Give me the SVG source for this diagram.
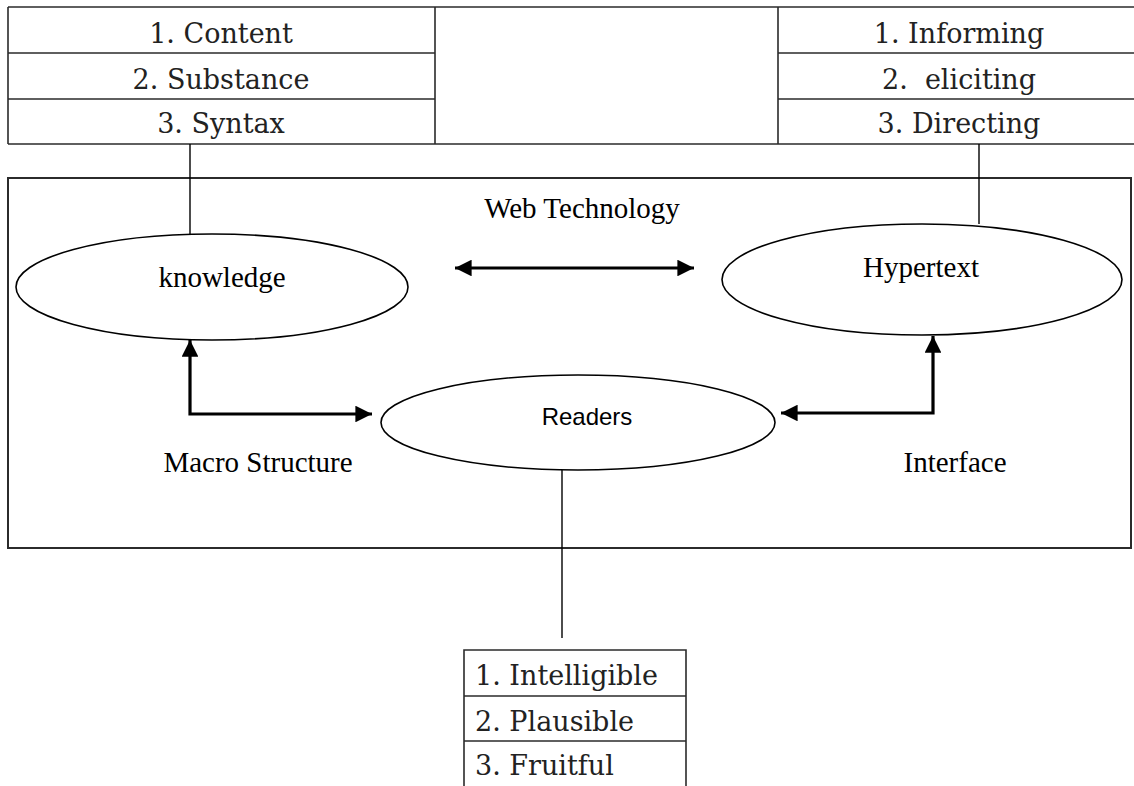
<svg xmlns="http://www.w3.org/2000/svg" width="1134" height="786" viewBox="0 0 1134 786">
  <style>
    .grid { stroke: #2b2b2b; stroke-width: 1.6; fill: none; }
    .frame { stroke: #2b2b2b; stroke-width: 2; fill: none; }
    .node { stroke: #000; stroke-width: 1.6; fill: #fff; }
    .link { stroke: #000; stroke-width: 1.4; fill: none; }
    .arrow { stroke: #000; stroke-width: 3.2; fill: none; }
    .cell { font-family: "DejaVu Serif", "Liberation Serif", serif; font-size: 27px; fill: #222; white-space: pre; }
    .label { font-family: "Liberation Serif", "Times New Roman", serif; font-size: 29px; fill: #000; }
    .sans { font-family: "Liberation Sans", Arial, sans-serif; font-size: 24px; fill: #000; }
  </style>
  <defs>
    <marker id="head" viewBox="0 0 10 10" refX="10" refY="5" markerWidth="5.2" markerHeight="5.2" markerUnits="strokeWidth" orient="auto-start-reverse">
      <path d="M0,0 L10,5 L0,10 Z" fill="#000"/>
    </marker>
  </defs>
  <rect width="1134" height="786" fill="#fff"/>

  <!-- top table: properties of knowledge (left) and hypertext (right) -->
  <g id="top-table">
    <path class="grid" d="M8,7 H1140 M8,144 H1140 M8,7 V144 M435,7 V144 M778,7 V144 M8,53 H435 M8,99 H435 M778,53 H1140 M778,99 H1140"/>
    <text class="cell" x="221" y="43" text-anchor="middle">1. Content</text>
    <text class="cell" x="221" y="89" text-anchor="middle">2. Substance</text>
    <text class="cell" x="221" y="133" text-anchor="middle">3. Syntax</text>
    <text class="cell" x="959" y="43" text-anchor="middle">1. Informing</text>
    <text class="cell" x="959" y="89" text-anchor="middle">2.  eliciting</text>
    <text class="cell" x="959" y="133" text-anchor="middle">3. Directing</text>
  </g>

  <!-- web technology frame -->
  <g id="web-technology">
    <rect class="frame" x="8" y="178" width="1123" height="370"/>
    <text class="label" x="582" y="218" text-anchor="middle">Web Technology</text>
  </g>

  <!-- connectors -->
  <g id="connectors">
    <line class="link" x1="190" y1="144" x2="190" y2="234"/>
    <line class="link" x1="979" y1="144" x2="979" y2="224"/>
    <line class="link" x1="562" y1="470" x2="562" y2="638"/>
    <line class="arrow" x1="455" y1="268" x2="694" y2="268" marker-start="url(#head)" marker-end="url(#head)"/>
    <polyline class="arrow" points="190,340 190,414 372,414" marker-start="url(#head)" marker-end="url(#head)"/>
    <polyline class="arrow" points="933,336 933,413 781,413" marker-start="url(#head)" marker-end="url(#head)"/>
  </g>

  <g id="knowledge">
    <ellipse class="node" cx="212" cy="287" rx="196" ry="53"/>
    <text class="label" x="222" y="287" text-anchor="middle">knowledge</text>
  </g>

  <g id="hypertext">
    <ellipse class="node" cx="922" cy="279.5" rx="200" ry="55.5"/>
    <text class="label" x="921" y="277" text-anchor="middle">Hypertext</text>
  </g>

  <g id="readers">
    <ellipse class="node" cx="578" cy="422.5" rx="197" ry="47.5"/>
    <text class="sans" x="587" y="425" text-anchor="middle">Readers</text>
  </g>

  <g id="macro-structure">
    <text class="label" x="258" y="472" text-anchor="middle">Macro Structure</text>
  </g>

  <g id="interface">
    <text class="label" x="955" y="472" text-anchor="middle">Interface</text>
  </g>

  <!-- bottom table: qualities for readers -->
  <g id="bottom-table">
    <path class="grid" d="M464,786 V650 H686 V786 M464,696 H686 M464,741 H686"/>
    <text class="cell" x="475" y="685">1. Intelligible</text>
    <text class="cell" x="475" y="731">2. Plausible</text>
    <text class="cell" x="475" y="775">3. Fruitful</text>
  </g>
</svg>
